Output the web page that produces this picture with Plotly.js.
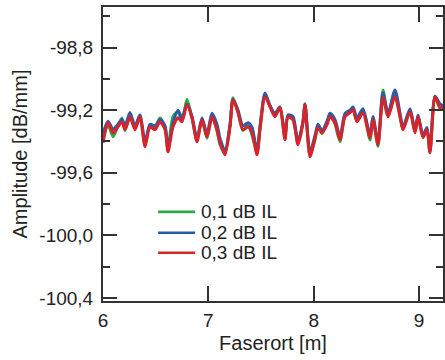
<!DOCTYPE html>
<html>
<head>
<meta charset="utf-8">
<script src="https://cdn.plot.ly/plotly-3.0.1.min.js"></script>
<style>html,body{margin:0;padding:0;background:#fff;}#chart{width:445px;height:360px;}</style>
</head>
<body>
<div id="chart"></div>
<script>
const faserort = [6.000,6.047,6.095,6.142,6.180,6.209,6.256,6.304,6.351,6.399,6.446,6.494,6.541,6.589,6.617,6.665,6.712,6.750,6.797,6.845,6.892,6.940,6.987,7.035,7.082,7.111,7.158,7.206,7.234,7.282,7.329,7.377,7.415,7.462,7.491,7.538,7.585,7.633,7.680,7.728,7.756,7.804,7.851,7.899,7.918,7.965,8.013,8.041,8.079,8.127,8.155,8.203,8.250,8.298,8.345,8.374,8.411,8.468,8.535,8.563,8.611,8.658,8.706,8.772,8.820,8.848,8.915,8.962,8.991,9.038,9.076,9.104,9.152,9.200,9.228];

const il01 = [-99.39,-99.29,-99.37,-99.30,-99.25,-99.33,-99.24,-99.31,-99.23,-99.42,-99.30,-99.31,-99.25,-99.31,-99.45,-99.24,-99.21,-99.27,-99.13,-99.25,-99.39,-99.26,-99.38,-99.24,-99.33,-99.42,-99.47,-99.30,-99.12,-99.21,-99.33,-99.30,-99.36,-99.47,-99.31,-99.10,-99.17,-99.23,-99.18,-99.38,-99.24,-99.26,-99.41,-99.27,-99.16,-99.49,-99.39,-99.30,-99.35,-99.28,-99.23,-99.29,-99.40,-99.23,-99.21,-99.19,-99.27,-99.20,-99.39,-99.25,-99.43,-99.07,-99.23,-99.08,-99.24,-99.32,-99.20,-99.34,-99.24,-99.37,-99.32,-99.47,-99.11,-99.19,-99.18];

const il02 = [-99.35,-99.27,-99.32,-99.29,-99.26,-99.30,-99.215,-99.30,-99.23,-99.40,-99.29,-99.30,-99.26,-99.30,-99.44,-99.28,-99.20,-99.25,-99.16,-99.24,-99.38,-99.25,-99.35,-99.22,-99.29,-99.38,-99.46,-99.29,-99.13,-99.20,-99.30,-99.28,-99.31,-99.46,-99.30,-99.09,-99.17,-99.22,-99.18,-99.36,-99.23,-99.24,-99.40,-99.27,-99.16,-99.47,-99.36,-99.29,-99.33,-99.27,-99.22,-99.26,-99.37,-99.22,-99.20,-99.18,-99.25,-99.19,-99.36,-99.24,-99.40,-99.09,-99.22,-99.07,-99.22,-99.31,-99.19,-99.33,-99.23,-99.36,-99.31,-99.46,-99.11,-99.16,-99.17];

const il03 = [-99.408,-99.280,-99.344,-99.306,-99.274,-99.325,-99.242,-99.325,-99.242,-99.434,-99.306,-99.325,-99.274,-99.325,-99.466,-99.306,-99.248,-99.274,-99.165,-99.248,-99.402,-99.261,-99.370,-99.242,-99.325,-99.408,-99.485,-99.306,-99.133,-99.216,-99.325,-99.306,-99.344,-99.485,-99.325,-99.114,-99.178,-99.242,-99.184,-99.389,-99.242,-99.261,-99.421,-99.280,-99.165,-99.498,-99.376,-99.312,-99.344,-99.293,-99.242,-99.280,-99.389,-99.242,-99.216,-99.197,-99.274,-99.216,-99.376,-99.261,-99.421,-99.120,-99.242,-99.114,-99.242,-99.325,-99.210,-99.344,-99.242,-99.376,-99.325,-99.472,-99.114,-99.184,-99.178];

const seriesNames = ['0,1 dB IL','0,2 dB IL','0,3 dB IL'];
const yTickVals = [-100.4,-100.0,-99.6,-99.2,-98.8];
const yTickText = ['-100,4','-100,0','-99,6','-99,2','-98,8'];
const xTickVals = [6,7,8,9];

const FONT = 'Liberation Sans, Arial, sans-serif';
const colors = ['#2fa84a','#2a5ba8','#d9232a'];
const data = [il01, il02, il03].map((ys, i) => ({
  x: faserort, y: ys, type: 'scatter', mode: 'lines', name: seriesNames[i],
  line: {color: colors[i], width: 3, shape: 'spline', smoothing: 0.7}
}));

// manual legend (compact row spacing)
const legendRowsY = [0.303, 0.232, 0.164];
const shapes = seriesNames.map((n, i) => ({
  type: 'line', xref: 'paper', yref: 'paper',
  x0: 0.162, x1: 0.271, y0: legendRowsY[i], y1: legendRowsY[i],
  line: {color: colors[i], width: 2.6}
}));
const annotations = seriesNames.map((n, i) => ({
  xref: 'paper', yref: 'paper', x: 0.283, y: legendRowsY[i],
  xanchor: 'left', yanchor: 'middle', showarrow: false, text: n,
  font: {family: FONT, size: 19, color: '#222'}
}));

const axisCommon = {
  showline: true, linewidth: 2, linecolor: '#333', mirror: 'ticks',
  ticks: 'inside', tickwidth: 2, tickcolor: '#333', showgrid: false, zeroline: false,
  tickfont: {family: FONT, size: 19, color: '#222'}
};

const layout = {
  width: 445, height: 360,
  margin: {l: 103, r: 2, t: 7, b: 59},
  paper_bgcolor: '#fff', plot_bgcolor: '#fff',
  showlegend: false,
  shapes: shapes, annotations: annotations,
  xaxis: Object.assign({}, axisCommon, {
    range: [6, 9.228], tickvals: xTickVals, ticklen: 15, ticklabelstandoff: 1,
    title: {text: 'Faserort [m]', standoff: 6, font: {family: FONT, size: 20, color: '#222'}}
  }),
  yaxis: Object.assign({}, axisCommon, {
    range: [-100.42, -98.54], tickvals: yTickVals, ticktext: yTickText, ticklen: 14, ticklabelstandoff: 4,
    minor: {dtick: 0.2, tick0: -100.4, ticks: 'inside', ticklen: 7, tickwidth: 2, tickcolor: '#333', showgrid: false},
    title: {text: 'Amplitude [dB/mm]', standoff: 6, font: {family: FONT, size: 20, color: '#222'}}
  })
};

Plotly.newPlot('chart', data, layout, {displayModeBar: false, staticPlot: true});
</script>
</body>
</html>
